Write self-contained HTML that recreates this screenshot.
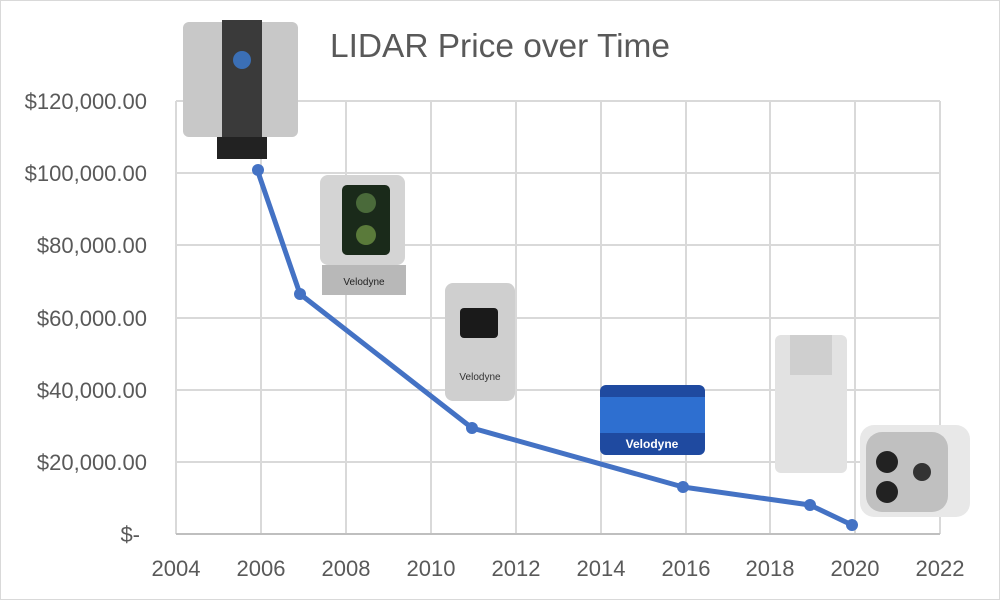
<!DOCTYPE html>
<html><head><style>
body{margin:0;background:#fff}
svg{display:block;font-family:"Liberation Sans",sans-serif}
</style></head><body>
<svg width="1000" height="600" viewBox="0 0 1000 600">
<rect x="0.5" y="0.5" width="999" height="599" fill="#fff" stroke="#d9d9d9"/>
<g stroke="#d9d9d9" stroke-width="2">
<line x1="176" y1="101" x2="940" y2="101"/><line x1="176" y1="173" x2="940" y2="173"/>
<line x1="176" y1="245" x2="940" y2="245"/><line x1="176" y1="318" x2="940" y2="318"/>
<line x1="176" y1="390" x2="940" y2="390"/><line x1="176" y1="462" x2="940" y2="462"/>
<line x1="176" y1="101" x2="176" y2="534"/><line x1="261" y1="101" x2="261" y2="534"/>
<line x1="346" y1="101" x2="346" y2="534"/><line x1="431" y1="101" x2="431" y2="534"/>
<line x1="516" y1="101" x2="516" y2="534"/><line x1="601" y1="101" x2="601" y2="534"/>
<line x1="686" y1="101" x2="686" y2="534"/><line x1="770" y1="101" x2="770" y2="534"/>
<line x1="855" y1="101" x2="855" y2="534"/><line x1="940" y1="101" x2="940" y2="534"/>
</g>
<line x1="176" y1="534" x2="940" y2="534" stroke="#bfbfbf" stroke-width="2"/>
<text x="500" y="57" font-size="33" fill="#595959" text-anchor="middle" textLength="340" lengthAdjust="spacingAndGlyphs">LIDAR Price over Time</text>
<g font-size="22" fill="#595959" text-anchor="end">
<text x="147" y="109">$120,000.00</text><text x="147" y="181">$100,000.00</text>
<text x="147" y="253">$80,000.00</text><text x="147" y="326">$60,000.00</text>
<text x="147" y="398">$40,000.00</text><text x="147" y="470">$20,000.00</text>
<text x="140" y="542">$-</text>
</g>
<g font-size="22" fill="#595959" text-anchor="middle">
<text x="176" y="576">2004</text><text x="261" y="576">2006</text><text x="346" y="576">2008</text>
<text x="431" y="576">2010</text><text x="516" y="576">2012</text><text x="601" y="576">2014</text>
<text x="686" y="576">2016</text><text x="770" y="576">2018</text><text x="855" y="576">2020</text>
<text x="940" y="576">2022</text>
</g>
<g>
<rect x="183" y="22" width="115" height="115" rx="6" fill="#c8c8c8"/>
<rect x="222" y="20" width="40" height="120" fill="#3a3a3a"/>
<circle cx="242" cy="60" r="9" fill="#3b6fb5"/>
<rect x="217" y="137" width="50" height="22" fill="#222"/>
<rect x="320" y="175" width="85" height="90" rx="8" fill="#d4d4d4"/>
<rect x="342" y="185" width="48" height="70" rx="5" fill="#1a2a1a"/>
<circle cx="366" cy="203" r="10" fill="#4a6a3a"/><circle cx="366" cy="235" r="10" fill="#5a7a3a"/>
<rect x="322" y="265" width="84" height="30" fill="#b8b8b8"/>
<text x="364" y="285" font-size="10" fill="#222" text-anchor="middle">Velodyne</text>
<rect x="445" y="283" width="70" height="118" rx="8" fill="#cfcfcf"/>
<rect x="460" y="308" width="38" height="30" rx="4" fill="#1a1a1a"/>
<text x="480" y="380" font-size="10" fill="#333" text-anchor="middle">Velodyne</text>
<rect x="600" y="385" width="105" height="70" rx="6" fill="#1f4aa0"/>
<rect x="600" y="397" width="105" height="36" fill="#2e6fd0"/>
<text x="652" y="448" font-size="12" fill="#fff" text-anchor="middle" font-weight="bold">Velodyne</text>
<rect x="775" y="335" width="72" height="138" rx="6" fill="#e2e2e2"/>
<rect x="790" y="335" width="42" height="40" fill="#cfcfcf"/>
<rect x="860" y="425" width="110" height="92" rx="14" fill="#e8e8e8"/>
<rect x="866" y="432" width="82" height="80" rx="16" fill="#c0c0c0"/>
<circle cx="887" cy="462" r="11" fill="#222"/><circle cx="887" cy="492" r="11" fill="#222"/><circle cx="922" cy="472" r="9" fill="#333"/>
</g>
<polyline points="258,172 300,294 472,428 683,487 810,505 852,525" fill="none" stroke="#4472c4" stroke-width="5" stroke-linejoin="round"/>
<g fill="#4472c4">
<circle cx="258" cy="170" r="6"/><circle cx="300" cy="294" r="6"/><circle cx="472" cy="428" r="6"/>
<circle cx="683" cy="487" r="6"/><circle cx="810" cy="505" r="6"/><circle cx="852" cy="525" r="6"/>
</g>
</svg>
</body></html>
